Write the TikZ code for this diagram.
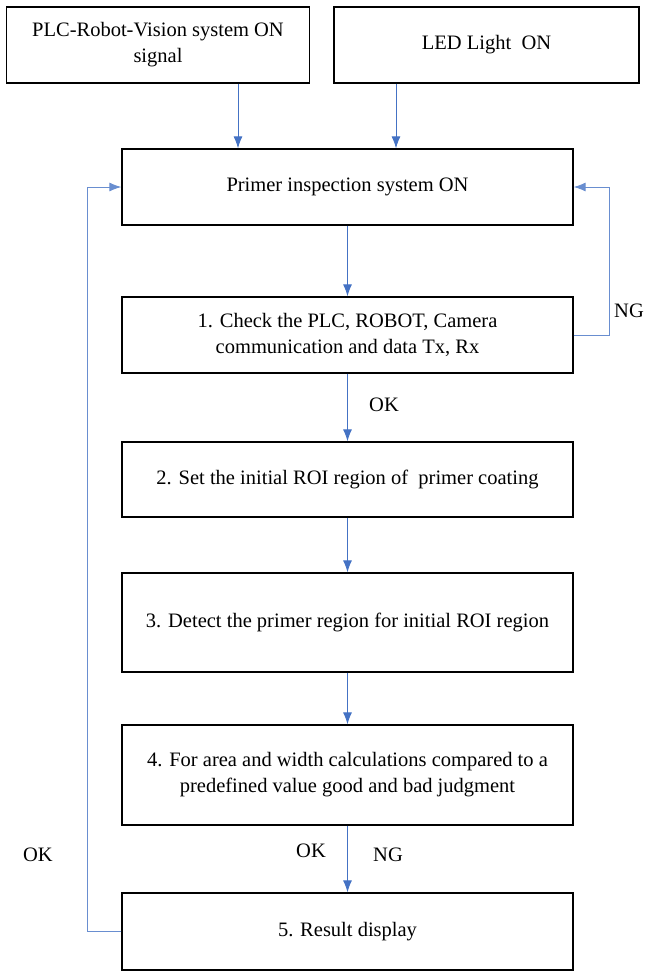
\documentclass[tikz,border=0pt]{standalone}
\usepackage{fontspec}
\setmainfont{Liberation Serif}
\usepackage{tikz}
\usetikzlibrary{arrows.meta}
\tikzset{>={Latex[length=12pt, width=9pt]}}
\definecolor{flowblue}{RGB}{68, 114, 196}
\tikzset{
    box/.style={draw, line width=1.3pt, align=center, inner sep=0pt,
        minimum width=451pt, font=\fontsize{20.5}{26}\selectfont},
    flow/.style={->, flowblue, line width=.9pt},
    back/.style={->, flowblue!80, line width=.9pt},
    tag/.style={font=\fontsize{20.5}{26}\selectfont}
}

\begin{document}
\begin{tikzpicture}[x=1pt, y=-1pt]
    \useasboundingbox(0, 0)rectangle(648, 972);
    % inputs
    \node[box, minimum width=303pt, minimum height=76pt](plc) at(158, 45){PLC-Robot-Vision system ON\\signal};
    \node[box, minimum width=305pt, minimum height=76pt](led) at(486.5, 45){LED Light\ \ ON};
    % steps
    \node[box, minimum height=76pt](prim) at(347.5, 187){Primer inspection system ON};
    \node[box, minimum height=76pt](chk) at(347.5, 335){1. Check the PLC, ROBOT, Camera\\communication and data Tx, Rx};
    \node[box, minimum height=75pt](roi) at(347.5, 479.5){2. Set the initial ROI region of\ \ primer coating};
    \node[box, minimum height=99pt](det) at(347.5, 622.5){3. Detect the primer region for initial ROI region};
    \node[box, minimum height=100pt](judge) at(347.5, 775){4. For area and width calculations compared to a\\predefined value good and bad judgment};
    \node[box, minimum height=77pt](res) at(347.5, 931.5){5. Result display};
    \coordinate(inA) at(238, 0);
    \coordinate(inB) at(396, 0);
    \coordinate(ngx) at(609, 187);
    \coordinate(okx) at(87, 187);
    \draw[flow](inA |- plc.south)--(inA |- prim.north);
    \draw[flow](inB |- led.south)--(inB |- prim.north);
    \draw[flow](prim)--(chk);
    \draw[flow](chk)--(roi);
    \draw[flow](roi)--(det);
    \draw[flow](det)--(judge);
    \draw[flow](judge)--(res);
    \draw[back](chk.east)-|(ngx)--(prim.east);
    \draw[back](res.west)-|(okx)--(prim.west);
    % labels
    \node[tag](ng1) at(629, 311){NG};
    \node[tag](ok1) at(384, 405){OK};
    \node[tag](ok2) at(311, 851){OK};
    \node[tag](ng2) at(388, 855){NG};
    \node[tag](ok3) at(38, 855){OK};
\end{tikzpicture}
\end{document}
